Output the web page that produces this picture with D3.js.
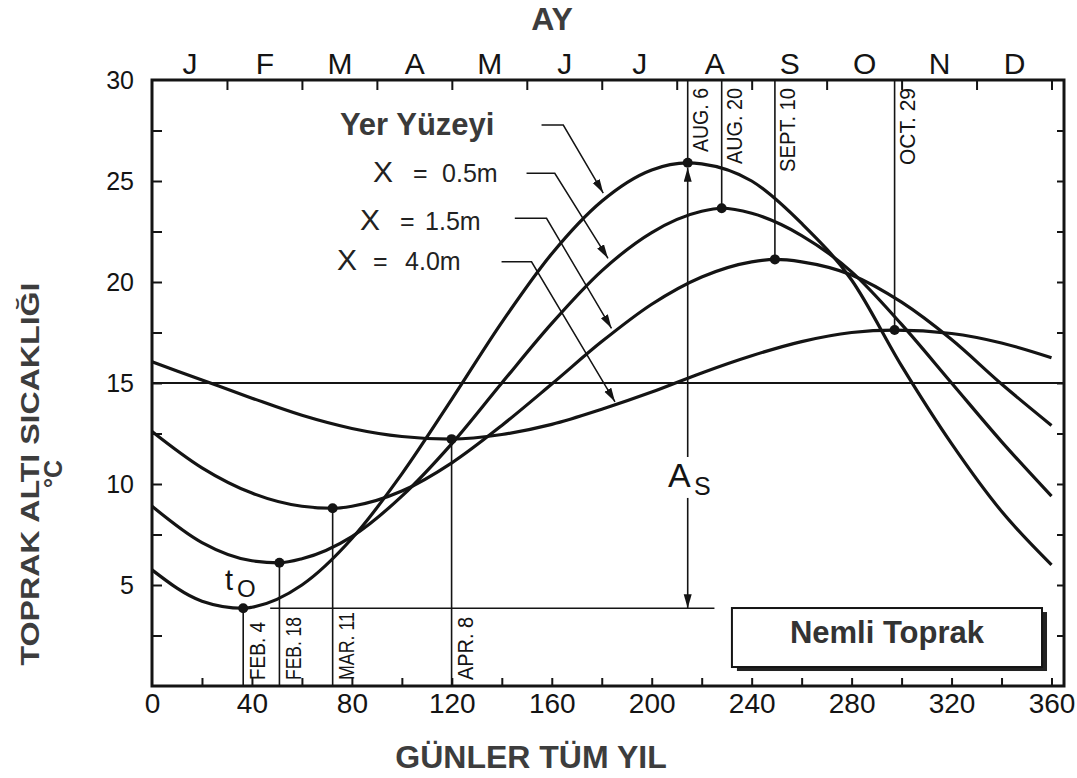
<!DOCTYPE html>
<html><head><meta charset="utf-8">
<script src="https://cdn.jsdelivr.net/npm/d3@7"></script>
<style>
body{margin:0;background:#fff;}
svg{display:block;font-family:"Liberation Sans",Arial,Helvetica,sans-serif;}
</style>
</head><body>
<svg id="c" width="1077" height="778"></svg>
<script>
// ---------- data ----------
const days     = [0,20,40,60,80,100,120,140,160,180,200,220,240,260,280,300,320,340,360];
const surface  = [5.75,4.2,3.9,5.0,7.3,10.5,14.2,18.0,21.4,24.0,25.55,25.85,25.0,22.9,20.1,15.85,12.0,8.65,6.0];
const depth05  = [8.9,7.1,6.2,6.3,7.4,9.4,12.0,15.0,17.95,20.55,22.45,23.5,23.4,22.3,20.5,17.9,15.0,12.1,9.4];
const depth15  = [12.6,10.8,9.55,8.9,8.9,9.65,11.05,12.9,14.95,17.05,18.9,20.25,21.0,21.0,20.35,19.0,17.15,14.95,12.9];
const depth40  = [16.05,15.15,14.25,13.4,12.75,12.35,12.22,12.45,12.95,13.7,14.55,15.5,16.35,17.05,17.5,17.62,17.45,16.98,16.25];
const seriesNames = ["Yer Yüzeyi","0.5m","1.5m","4.0m"];

const minDays   = [36.5, 51, 72.3, 119.9];
const minTemps  = [3.85, 6.1, 8.8, 12.22];
const minLabels = ["FEB. 4","FEB. 18","MAR. 11","APR. 8"];
const maxDays   = [214.4, 228, 249.3, 297.2];
const maxTemps  = [25.9, 23.65, 21.12, 17.62];
const maxLabels = ["AUG. 6","AUG. 20","SEPT. 10","OCT. 29"];

const monthLabels   = ["J","F","M","A","M","J","J","A","S","O","N","D"];
const monthMidDays  = [15,45,75,105,135,165,195,225,255,285,315,345];
const monthEdgeDays = [30,60,90,120,150,180,210,240,270,300,330,360];
const xTickLabels   = [0,40,80,120,160,200,240,280,320,360];
const xMinorTicks   = [20,40,60,80,100,120,140,160,180,200,220,240,260,280,300,320,340,360];
const yTickLabels   = [5,10,15,20,25,30];
const yMinorTicks   = [2.5,5,7.5,10,12.5,15,17.5,20,22.5,25,27.5];
const meanTemp = 15;

// ---------- scales ----------
const svg = d3.select("#c");
const x = d3.scaleLinear().domain([0,365]).range([152,1064]);
const y = d3.scaleLinear().domain([0,30]).range([686,80]);
const INK = "#141414";

// 15 degree line
svg.append("line").attr("x1",x(0)).attr("x2",x(365)).attr("y1",y(meanTemp)).attr("y2",y(meanTemp))
  .attr("stroke",INK).attr("stroke-width",2);

// frame
svg.append("rect").attr("x",x(0)).attr("y",y(30)).attr("width",x(365)-x(0)).attr("height",y(0)-y(30))
  .attr("fill","none").attr("stroke",INK).attr("stroke-width",3);

function styleAxis(g, fs){
  g.attr("font-family",null).attr("font-size",null);
  g.select(".domain").remove();
  g.selectAll("line").attr("stroke",INK).attr("stroke-width",2);
  g.selectAll("text").attr("fill",INK).attr("font-size",fs);
}
// bottom ticks and labels
styleAxis(svg.append("g").attr("transform",`translate(0,${y(0)})`)
  .call(d3.axisBottom(x).tickValues(xMinorTicks).tickSize(-8).tickFormat("")),0);
styleAxis(svg.append("g").attr("transform",`translate(0,${y(0)})`)
  .call(d3.axisBottom(x).tickValues(xTickLabels).tickSize(0).tickPadding(7)),28);
// top month ticks and labels
styleAxis(svg.append("g").attr("transform",`translate(0,${y(30)})`)
  .call(d3.axisTop(x).tickValues(monthEdgeDays).tickSize(-10).tickFormat("")),0);
styleAxis(svg.append("g").attr("transform",`translate(0,${y(30)})`)
  .call(d3.axisTop(x).tickValues(monthMidDays).tickSize(0).tickPadding(6).tickFormat((d,i)=>monthLabels[i])),30);
// left
styleAxis(svg.append("g").attr("transform",`translate(${x(0)},0)`)
  .call(d3.axisLeft(y).tickValues(yMinorTicks).tickSize(-10).tickFormat("")),0);
styleAxis(svg.append("g").attr("transform",`translate(${x(0)},0)`)
  .call(d3.axisLeft(y).tickValues(yTickLabels).tickSize(0).tickPadding(18)),25);
// right
styleAxis(svg.append("g").attr("transform",`translate(${x(365)},0)`)
  .call(d3.axisRight(y).tickValues(yMinorTicks).tickSize(-7).tickFormat("")),0);

// ---------- curves ----------
const allSeries = [surface, depth05, depth15, depth40];
const line = d3.line().x(d=>x(d[0])).y(d=>y(d[1])).curve(d3.curveMonotoneX);
allSeries.forEach((vals,i)=>{
  let pts = days.map((d,j)=>[d, vals[j]])
    .filter(p=>Math.abs(p[0]-minDays[i])>=3 && Math.abs(p[0]-maxDays[i])>=3);
  pts.push([minDays[i],minTemps[i]],[maxDays[i],maxTemps[i]]);
  pts.sort((a,b)=>a[0]-b[0]);
  svg.append("path").attr("d",line(pts)).attr("fill","none").attr("stroke",INK)
    .attr("stroke-width",3.2).attr("stroke-linejoin","round").attr("class","series")
    .attr("data-name",seriesNames[i]);
});

// ---------- date markers ----------
const minLabelLen = [58,63,68,63];
const maxLabelLen = [64,76,84,77];
minDays.forEach((d,i)=>{
  svg.append("line").attr("x1",x(d)).attr("x2",x(d)).attr("y1",y(minTemps[i])).attr("y2",y(0))
    .attr("stroke",INK).attr("stroke-width",1.6);
  svg.append("circle").attr("cx",x(d)).attr("cy",y(minTemps[i])).attr("r",5).attr("fill",INK);
  svg.append("text").attr("transform",`translate(${x(d)+14},${y(0)-6}) rotate(-90)`)
    .attr("dominant-baseline","central").attr("text-anchor","start")
    .attr("font-size",22).attr("textLength",minLabelLen[i]).attr("lengthAdjust","spacingAndGlyphs")
    .attr("fill",INK).text(minLabels[i]);
});
maxDays.forEach((d,i)=>{
  svg.append("line").attr("x1",x(d)).attr("x2",x(d)).attr("y1",y(30)).attr("y2",y(maxTemps[i]))
    .attr("stroke",INK).attr("stroke-width",1.6);
  svg.append("circle").attr("cx",x(d)).attr("cy",y(maxTemps[i])).attr("r",5).attr("fill",INK);
  svg.append("text").attr("transform",`translate(${x(d)+13},${y(30)+8}) rotate(-90)`)
    .attr("dominant-baseline","central").attr("text-anchor","end")
    .attr("font-size",22).attr("textLength",maxLabelLen[i]).attr("lengthAdjust","spacingAndGlyphs")
    .attr("fill",INK).text(maxLabels[i]);
});

// arrow markers
const defs = svg.append("defs");
defs.append("marker").attr("id","ah").attr("markerUnits","userSpaceOnUse")
  .attr("markerWidth",16).attr("markerHeight",10).attr("refX",14).attr("refY",4)
  .attr("orient","auto").append("path").attr("d","M0,0 L14,4 L0,8 Z").attr("fill",INK);

// amplitude A_s
const asDay = maxDays[0];
svg.append("line").attr("x1",x(asDay)).attr("x2",x(asDay)).attr("y1",y(11.34)).attr("y2",y(25.66))
  .attr("stroke",INK).attr("stroke-width",1.6).attr("marker-end","url(#ah)");
svg.append("line").attr("x1",x(asDay)).attr("x2",x(asDay)).attr("y1",y(9.31)).attr("y2",y(minTemps[0]))
  .attr("stroke",INK).attr("stroke-width",1.6).attr("marker-end","url(#ah)");
svg.append("line").attr("x1",x(47.3)).attr("x2",x(225.1)).attr("y1",y(minTemps[0])).attr("y2",y(minTemps[0]))
  .attr("stroke",INK).attr("stroke-width",1.6);
svg.append("text").attr("x",x(206.5)).attr("y",y(9.85)).attr("font-size",34).attr("fill",INK).text("A");
svg.append("text").attr("x",x(216.9)).attr("y",y(9.46)).attr("font-size",25).attr("fill",INK).text("S");

// t_O
svg.append("text").attr("x",x(29.2)).attr("y",y(4.75)).attr("font-size",29).attr("fill",INK).text("t");
svg.append("text").attr("x",x(34.0)).attr("y",y(4.41)).attr("font-size",24).attr("fill",INK).text("O");

// ---------- leaders ----------
const leaders = [
  [[155.9,27.77],[164.6,27.77],[180.6,24.4]],
  [[149.9,25.38],[161.2,25.38],[182.5,21.17]],
  [[145.2,23.15],[157.9,23.15],[183.9,17.71]],
  [[139.9,21.0],[151.9,21.0],[185.3,14.07]]
];
const lin = d3.line().x(d=>x(d[0])).y(d=>y(d[1]));
leaders.forEach(p=>{
  svg.append("path").attr("d",lin(p)).attr("fill","none").attr("stroke",INK)
    .attr("stroke-width",1.5).attr("marker-end","url(#ah)");
});
svg.append("text").attr("x",x(75.2)).attr("y",y(27.28)).attr("font-size",31).attr("font-weight","bold")
  .attr("fill","#3a3a3a").text(seriesNames[0]);
const depthLabelPos = [[88.4,104.5,116.1,24.95],[83.2,99.3,109.3,22.57],[74.0,88.4,101.3,20.59]];
depthLabelPos.forEach((p,i)=>{
  svg.append("text").attr("x",x(p[0])).attr("y",y(p[3])).attr("font-size",30).attr("fill","#222").text("X");
  svg.append("text").attr("x",x(p[1])).attr("y",y(p[3])).attr("font-size",25).attr("fill","#222").text("=");
  svg.append("text").attr("x",x(p[2])).attr("y",y(p[3])).attr("font-size",25).attr("fill","#222").text(seriesNames[i+1]);
});

// ---------- Nemli Toprak box ----------
const bx0=x(232.1), bx1=x(356.2), by0=y(3.86), by1=y(0.94);
svg.append("rect").attr("x",bx0+5).attr("y",by0+4).attr("width",bx1-bx0).attr("height",by1-by0).attr("fill","#222");
svg.append("rect").attr("x",bx0).attr("y",by0).attr("width",bx1-bx0).attr("height",by1-by0)
  .attr("fill","#fff").attr("stroke",INK).attr("stroke-width",2);
svg.append("text").attr("x",(bx0+bx1)/2).attr("y",y(2.13)).attr("text-anchor","middle")
  .attr("font-size",31).attr("font-weight","bold").attr("fill","#333").text("Nemli Toprak");

// ---------- axis titles ----------
svg.append("text").attr("x",552).attr("y",30).attr("text-anchor","middle").attr("font-size",32)
  .attr("font-weight","bold").attr("fill","#3d3d3d").text("AY");
svg.append("text").attr("x",531).attr("y",768).attr("text-anchor","middle").attr("font-size",32)
  .attr("font-weight","bold").attr("fill","#3d3d3d").text("GÜNLER TÜM YIL");
svg.append("text").attr("transform","translate(30,474) rotate(-90)").attr("text-anchor","middle")
  .attr("dominant-baseline","central").attr("font-size",26).attr("font-weight","bold")
  .attr("textLength",383).attr("lengthAdjust","spacingAndGlyphs").attr("fill","#3d3d3d").text("TOPRAK ALTI SICAKLIĞI");
svg.append("text").attr("transform","translate(53,474) rotate(-90)").attr("text-anchor","middle")
  .attr("dominant-baseline","central").attr("font-size",25).attr("font-weight","bold")
  .attr("fill","#3d3d3d").text("°C");
</script>
</body></html>
